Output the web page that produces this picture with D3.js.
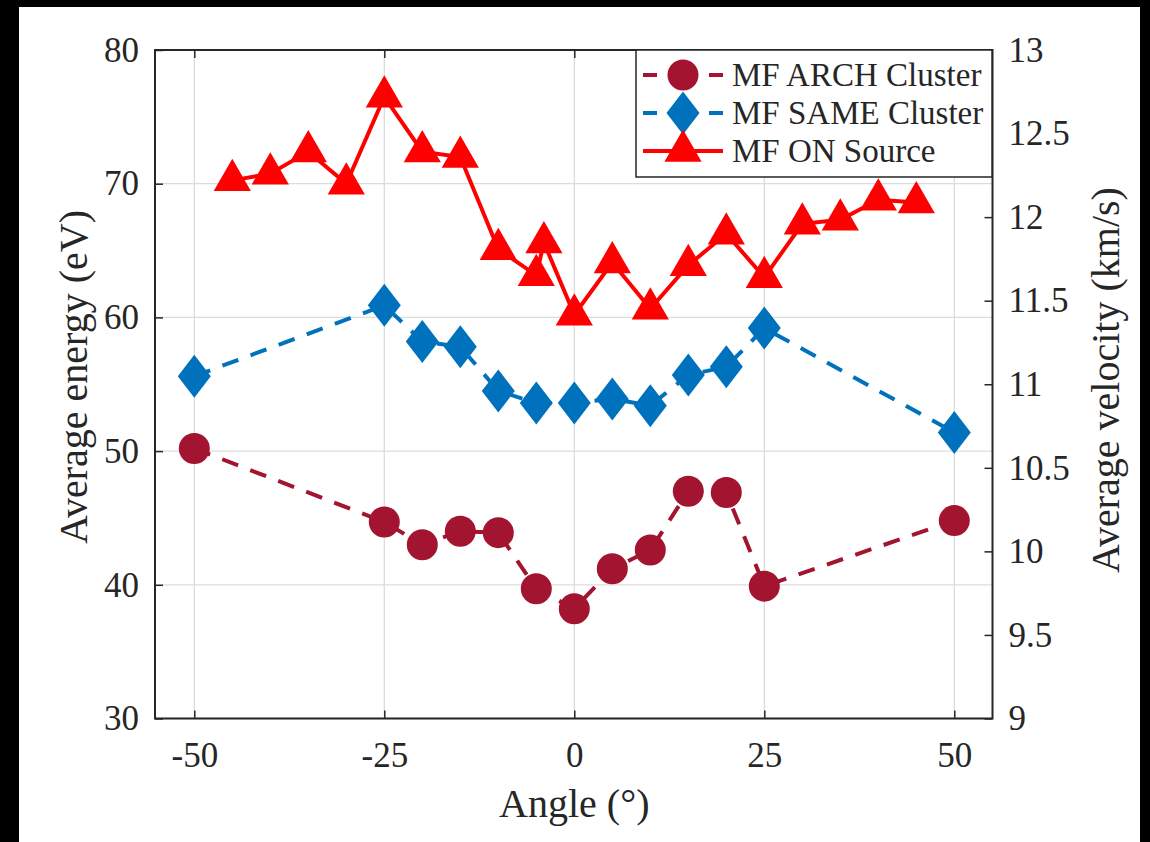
<!DOCTYPE html>
<html>
<head>
<meta charset="utf-8">
<script src="https://cdn.jsdelivr.net/npm/d3@7"></script>
<style>
  html, body { margin: 0; padding: 0; background: #000; }
  svg { display: block; }
  text { font-family: "Liberation Serif", "Times New Roman", serif; fill: #262626; }
</style>
</head>
<body>
<div id="chart"></div>
<script>
// Data
const archAngle = [-50, -25, -20, -15, -10, -5, 0, 5, 10, 15, 20, 25, 50];
const archEnergy = [50.2, 44.7, 43.0, 44.0, 43.9, 39.7, 38.2, 41.2, 42.6, 47.0, 46.9, 39.9, 44.8];

const sameAngle = [-50, -25, -20, -15, -10, -5, 0, 5, 10, 15, 20, 25, 50];
const sameEnergy = [55.6, 60.9, 58.2, 57.8, 54.5, 53.6, 53.6, 53.9, 53.4, 55.7, 56.3, 59.2, 51.4];

const onAngle = [-45, -40, -35, -30, -25, -20, -15, -10, -5, -4, 0, 5, 10, 15, 20, 25, 30, 35, 40, 45];
const onEnergy = [70.25, 70.75, 72.4, 70.0, 76.5, 72.4, 72.0, 65.1, 63.15, 65.6, 60.2, 64.1, 60.65, 63.9, 66.26, 63.0, 67.0, 67.3, 68.8, 68.6];

const seriesNames = ["MF ARCH Cluster", "MF SAME Cluster", "MF ON Source"];
const xTicks = [-50, -25, 0, 25, 50];
const yLeftTicks = [30, 40, 50, 60, 70, 80];
const yRightTicks = [9, 9.5, 10, 10.5, 11, 11.5, 12, 12.5, 13];

// Layout
const W = 1150, H = 842;
const plot = { left: 155, right: 992.5, top: 50, bottom: 718.5 };

const svg = d3.select("#chart")
    .append("svg")
    .attr("width", W)
    .attr("height", H);

svg.append("rect").attr("width", W).attr("height", H).attr("fill", "#000");
svg.append("rect").attr("x", 19).attr("y", 7).attr("width", 1121).attr("height", H - 7).attr("fill", "#fff");

// Scales
const x = d3.scaleLinear().domain([-55, 55]).range([156.3, 992.3]);
const y = d3.scaleLinear().domain([30, 80]).range([plot.bottom, plot.top]);
const yR = d3.scaleLinear().domain([9, 13]).range([plot.bottom, plot.top]);

// Grid
const grid = svg.append("g").attr("stroke", "#dcdcdc").attr("stroke-width", 1.3);
grid.selectAll(".gx").data(xTicks).enter().append("line")
    .attr("x1", d => x(d)).attr("x2", d => x(d))
    .attr("y1", plot.top).attr("y2", plot.bottom);
grid.selectAll(".gy").data(yLeftTicks).enter().append("line")
    .attr("x1", plot.left).attr("x2", plot.right)
    .attr("y1", d => y(d)).attr("y2", d => y(d));

// Axes (ticks pointing inward)
const axisColor = "#262626";
function styleAxis(g) {
    g.select(".domain").remove();
    g.selectAll(".tick line").attr("stroke", axisColor).attr("stroke-width", 1.5);
    g.selectAll(".tick text").attr("fill", axisColor).style("font-size", "35px")
        .style("font-family", "'Liberation Serif', serif");
}

svg.append("g")
    .attr("transform", `translate(0,${plot.bottom})`)
    .call(d3.axisBottom(x).tickValues(xTicks).tickSizeInner(-8).tickSizeOuter(0).tickPadding(24)
        .tickFormat(d => d))
    .call(styleAxis)
    .selectAll(".tick text").attr("dy", "0.71em");

svg.append("g")
    .attr("transform", `translate(0,${plot.top})`)
    .call(d3.axisTop(x).tickValues(xTicks).tickSizeInner(-8).tickSizeOuter(0).tickFormat(""))
    .call(styleAxis);

svg.append("g")
    .attr("transform", `translate(${plot.left},0)`)
    .call(d3.axisLeft(y).tickValues(yLeftTicks).tickSizeInner(-8).tickSizeOuter(0).tickPadding(16)
        .tickFormat(d => d))
    .call(styleAxis);

svg.append("g")
    .attr("transform", `translate(${plot.right},0)`)
    .call(d3.axisRight(yR).tickValues(yRightTicks).tickSizeInner(-8).tickSizeOuter(0).tickPadding(16)
        .tickFormat(d => d))
    .call(styleAxis);

// Box
svg.append("rect")
    .attr("x", plot.left).attr("y", plot.top)
    .attr("width", plot.right - plot.left).attr("height", plot.bottom - plot.top)
    .attr("fill", "none").attr("stroke", axisColor).attr("stroke-width", 2);

// Axis labels
svg.append("text")
    .attr("x", x(0)).attr("y", 817)
    .attr("text-anchor", "middle")
    .style("font-size", "40px")
    .text("Angle (°)");

svg.append("text")
    .attr("transform", "translate(87,377) rotate(-90)")
    .attr("text-anchor", "middle")
    .style("font-size", "40px")
    .text("Average energy (eV)");

svg.append("text")
    .attr("transform", "translate(1119,380) rotate(-90)")
    .attr("text-anchor", "middle")
    .style("font-size", "40px")
    .text("Average velocity (km/s)");

// Markers
const circlePath = d3.symbol().type(d3.symbolCircle).size(Math.PI * 15.5 * 15.5)();
const trianglePath = d3.symbol().type(d3.symbolTriangle).size(600)();
const diamondPath = "M0,-21.5L16.5,0L0,21.5L-16.5,0Z";

const series = [
    { name: seriesNames[0], xs: archAngle, ys: archEnergy, color: "#A2142F", dash: "17,13", marker: circlePath },
    { name: seriesNames[1], xs: sameAngle, ys: sameEnergy, color: "#0072BD", dash: "17,13", marker: diamondPath },
    { name: seriesNames[2], xs: onAngle, ys: onEnergy, color: "#FF0000", dash: null, marker: trianglePath }
];

const line = d3.line().x(d => x(d[0])).y(d => y(d[1]));

series.forEach(s => {
    const pts = s.xs.map((a, i) => [a, s.ys[i]]);
    const g = svg.append("g");
    g.append("path")
        .datum(pts)
        .attr("d", line)
        .attr("fill", "none")
        .attr("stroke", s.color)
        .attr("stroke-width", 4)
        .attr("stroke-dasharray", s.dash);
    g.selectAll(".m")
        .data(pts)
        .enter()
        .append("path")
        .attr("d", s.marker)
        .attr("transform", d => `translate(${x(d[0])},${y(d[1])})`)
        .attr("fill", s.color);
});

// Legend
const legend = svg.append("g");
legend.append("rect")
    .attr("x", 636).attr("y", 50).attr("width", 356).attr("height", 127)
    .attr("fill", "#fff").attr("stroke", axisColor).attr("stroke-width", 1.5);

const rowY = [75, 113, 151];
series.forEach((s, i) => {
    const ly = rowY[i];
    legend.append("line")
        .attr("x1", 643).attr("x2", 723).attr("y1", ly).attr("y2", ly)
        .attr("stroke", s.color).attr("stroke-width", 4)
        .attr("stroke-dasharray", s.dash ? "14,52,14" : null);
    legend.append("path")
        .attr("d", s.marker)
        .attr("transform", `translate(683,${ly})`)
        .attr("fill", s.color);
    legend.append("text")
        .attr("x", 732).attr("y", ly + 11)
        .style("font-size", "33px")
        .text(s.name);
});
</script>
</body>
</html>
